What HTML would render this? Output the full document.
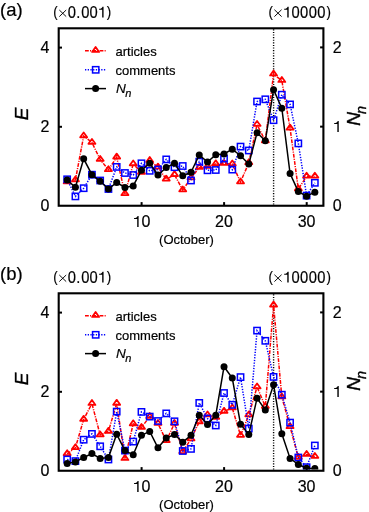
<!DOCTYPE html>
<html><head><meta charset="utf-8"><style>
html,body{margin:0;padding:0;background:#fff;}
body{width:369px;height:512px;overflow:hidden;}
svg{display:block;will-change:transform;}
text{font-family:"Liberation Sans",sans-serif;fill:#000;stroke:#000;stroke-width:0.2px;}
.t18{font-size:18px;}
.t16{font-size:16px;}
.t15{font-size:15px;}
.t153{font-size:15.3px;}
.t185{font-size:18.5px;}
.t13{font-size:13px;}
.t135i{font-size:13.6px;font-style:italic;}
.t19i{font-size:19px;font-style:italic;stroke:#000;stroke-width:0.35px;}
.sub{font-size:14.5px;}
.sub13{font-size:11px;}
</style></head><body>
<svg width="369" height="512" viewBox="0 0 369 512">
<defs><clipPath id="clipa"><rect x="59.80" y="29.3" width="262.40" height="175.30"/></clipPath>
<clipPath id="clipb"><rect x="59.80" y="29.3" width="262.40" height="175.30"/></clipPath></defs>
<g>
<text x="0" y="15.7" class="t185">(a)</text>
<text transform="translate(53.17,17.10) scale(0.87,1)" x="0" y="0" class="t153">(</text>
<text transform="translate(106.82,17.10) scale(0.87,1)" x="0" y="0" class="t153">)</text>
<text transform="scale(0.92,1)" x="73.62 82.89 88.29 97.32" y="18.0" class="t16">0.00</text>
<path d="M103.57,17.60L103.57,6.73L102.50,6.73C102.21,8.04 101.08,8.72 99.09,8.78L99.09,9.78L102.18,9.78L102.18,17.60Z" fill="#000"/>
<path d="M59.3,10.0L66.2,16.6M66.2,10.0L59.3,16.6" stroke="#000" stroke-width="0.95" fill="none"/>
<text transform="translate(268.57,17.10) scale(0.87,1)" x="0" y="0" class="t153">(</text>
<text transform="translate(326.62,17.10) scale(0.87,1)" x="0" y="0" class="t153">)</text>
<text transform="scale(0.92,1)" x="316.99 326.23 335.47 344.82" y="18.0" class="t16">0000</text>
<path d="M288.67,17.60L288.67,6.73L287.60,6.73C287.31,8.04 286.18,8.72 284.19,8.78L284.19,9.78L287.28,9.78L287.28,17.60Z" fill="#000"/>
<path d="M274.4,9.7L281.6,16.6M281.6,9.7L274.4,16.6" stroke="#000" stroke-width="0.95" fill="none"/>
<text x="49.3" y="52.7" class="t16" text-anchor="end">4</text>
<text x="49.3" y="132.0" class="t16" text-anchor="end">2</text>
<text x="49.3" y="211.4" class="t16" text-anchor="end">0</text>
<text x="332.7" y="52.8" class="t16">2</text>
<text x="332.7" y="211.4" class="t16">0</text>
<path d="M338.75,132.00L338.75,120.99L337.66,120.99C337.37,122.32 336.22,123.01 334.20,123.07L334.20,124.08L337.34,124.08L337.34,132.00Z" fill="#000"/>
<path d="M138.61,226.90L138.61,215.89L137.52,215.89C137.23,217.22 136.08,217.91 134.07,217.97L134.07,218.98L137.20,218.98L137.20,226.90Z" fill="#000"/>
<text x="141.46" y="226.9" class="t16">0</text>
<text x="224.0" y="226.9" class="t16" text-anchor="middle">20</text>
<text x="306.6" y="226.9" class="t16" text-anchor="middle">30</text>
<text x="186.5" y="243.5" class="t13" text-anchor="middle">(October)</text>
<text transform="translate(28.3,120.2) rotate(-90)" class="t19i">E</text>
<text transform="translate(359.6,125.8) rotate(-90)" class="t19i">N<tspan class="sub" dx="-1.8" dy="6">n</tspan></text>
<g stroke="#000" stroke-width="2.1" fill="none">
<rect x="58.7" y="28.3" width="264.7" height="177.45"/>
</g>
<g stroke="#000" stroke-width="2">
<line x1="58.7" x2="62" y1="47.6" y2="47.6"/>
<line x1="58.7" x2="62" y1="126.8" y2="126.8"/>
<line x1="323.4" x2="320.1" y1="47.4" y2="47.4"/>
<line x1="323.4" x2="320.1" y1="126.65" y2="126.65"/>
<line x1="141.6" x2="141.6" y1="205.5" y2="202.1"/>
<line x1="224.1" x2="224.1" y1="205.5" y2="202.1"/>
<line x1="306.7" x2="306.7" y1="205.5" y2="202.1"/>
</g>
<line x1="273.6" x2="273.6" y1="29.3" y2="204.6" stroke="#000" stroke-width="1.4" stroke-dasharray="1.1 1.5"/>
<line x1="85" x2="106" y1="50.8" y2="50.8" stroke="#ff0000" stroke-width="1.5" stroke-dasharray="3.8 1.2 1.1 1.2"/>
<g stroke="#ff0000" stroke-width="1.8" stroke-linejoin="round" fill="none"><path d="M95.60,47.03L99.10,51.93L92.10,51.93Z"/></g>
<line x1="85" x2="106" y1="69.8" y2="69.8" stroke="#0000ff" stroke-width="1.5" stroke-dasharray="1.3 1.4"/>
<g stroke="#0000ff" stroke-width="1.5" fill="none"><rect x="92.55" y="66.65" width="6.3" height="6.3"/></g>
<line x1="85" x2="106" y1="88.6" y2="88.6" stroke="#000000" stroke-width="1.5"/>
<g fill="#000000"><circle cx="95.60" cy="88.60" r="3.5"/></g>
<text x="115.5" y="56.4" class="t13">articles</text>
<text x="115.5" y="75.2" class="t13">comments</text>
<text x="116" y="92.6" class="t135i">N<tspan class="sub13" dx="-0.6" dy="4.3">n</tspan></text>
<g clip-path="url(#clipa)">
<polyline points="67.16,182.00 75.41,180.00 83.67,136.00 91.93,142.50 100.18,159.50 108.44,169.80 116.69,157.20 124.95,193.80 133.21,164.00 141.46,172.50 149.72,160.60 157.98,167.20 166.23,179.20 174.49,174.70 182.74,190.00 191.00,178.00 199.26,167.60 207.51,166.50 215.77,163.90 224.03,163.50 232.28,164.00 240.54,182.00 248.79,162.80 257.05,124.50 265.31,141.00 273.56,74.10 281.82,80.60 290.08,128.20 298.33,189.00 306.59,176.30 314.84,176.30" fill="none" stroke="#ff0000" stroke-width="1.5" stroke-dasharray="3.8 1.2 1.1 1.2"/>
<g stroke="#ff0000" stroke-width="1.8" stroke-linejoin="round" fill="none"><path d="M67.16,178.43L70.66,183.33L63.66,183.33Z"/><path d="M75.41,176.43L78.91,181.33L71.91,181.33Z"/><path d="M83.67,132.43L87.17,137.33L80.17,137.33Z"/><path d="M91.93,138.93L95.43,143.83L88.43,143.83Z"/><path d="M100.18,155.93L103.68,160.83L96.68,160.83Z"/><path d="M108.44,166.23L111.94,171.13L104.94,171.13Z"/><path d="M116.69,153.63L120.19,158.53L113.19,158.53Z"/><path d="M124.95,190.23L128.45,195.13L121.45,195.13Z"/><path d="M133.21,160.43L136.71,165.33L129.71,165.33Z"/><path d="M141.46,168.93L144.96,173.83L137.96,173.83Z"/><path d="M149.72,157.03L153.22,161.93L146.22,161.93Z"/><path d="M157.98,163.63L161.48,168.53L154.48,168.53Z"/><path d="M166.23,175.63L169.73,180.53L162.73,180.53Z"/><path d="M174.49,171.13L177.99,176.03L170.99,176.03Z"/><path d="M182.74,186.43L186.24,191.33L179.24,191.33Z"/><path d="M191.00,174.43L194.50,179.33L187.50,179.33Z"/><path d="M199.26,164.03L202.76,168.93L195.76,168.93Z"/><path d="M207.51,162.93L211.01,167.83L204.01,167.83Z"/><path d="M215.77,160.33L219.27,165.23L212.27,165.23Z"/><path d="M224.03,159.93L227.53,164.83L220.53,164.83Z"/><path d="M232.28,160.43L235.78,165.33L228.78,165.33Z"/><path d="M240.54,178.43L244.04,183.33L237.04,183.33Z"/><path d="M248.79,159.23L252.29,164.13L245.29,164.13Z"/><path d="M257.05,120.93L260.55,125.83L253.55,125.83Z"/><path d="M265.31,137.43L268.81,142.33L261.81,142.33Z"/><path d="M273.56,70.53L277.06,75.43L270.06,75.43Z"/><path d="M281.82,77.03L285.32,81.93L278.32,81.93Z"/><path d="M290.08,124.63L293.58,129.53L286.58,129.53Z"/><path d="M298.33,185.43L301.83,190.33L294.83,190.33Z"/><path d="M306.59,172.73L310.09,177.63L303.09,177.63Z"/><path d="M314.84,172.73L318.34,177.63L311.34,177.63Z"/></g>
<polyline points="67.16,179.30 75.41,196.40 83.67,188.20 91.93,174.70 100.18,180.50 108.44,189.00 116.69,166.90 124.95,173.00 133.21,175.00 141.46,163.30 149.72,170.80 157.98,169.50 166.23,159.40 174.49,167.20 182.74,166.00 191.00,180.50 199.26,161.70 207.51,170.30 215.77,170.00 224.03,158.60 232.28,169.60 240.54,146.60 248.79,150.50 257.05,101.50 265.31,99.30 273.56,120.20 281.82,94.70 290.08,104.40 298.33,143.40 306.59,195.60 314.84,182.80" fill="none" stroke="#0000ff" stroke-width="1.5" stroke-dasharray="1.3 1.4"/>
<g stroke="#0000ff" stroke-width="1.5" fill="none"><rect x="64.01" y="176.15" width="6.3" height="6.3"/><rect x="72.26" y="193.25" width="6.3" height="6.3"/><rect x="80.52" y="185.05" width="6.3" height="6.3"/><rect x="88.78" y="171.55" width="6.3" height="6.3"/><rect x="97.03" y="177.35" width="6.3" height="6.3"/><rect x="105.29" y="185.85" width="6.3" height="6.3"/><rect x="113.54" y="163.75" width="6.3" height="6.3"/><rect x="121.80" y="169.85" width="6.3" height="6.3"/><rect x="130.06" y="171.85" width="6.3" height="6.3"/><rect x="138.31" y="160.15" width="6.3" height="6.3"/><rect x="146.57" y="167.65" width="6.3" height="6.3"/><rect x="154.83" y="166.35" width="6.3" height="6.3"/><rect x="163.08" y="156.25" width="6.3" height="6.3"/><rect x="171.34" y="164.05" width="6.3" height="6.3"/><rect x="179.59" y="162.85" width="6.3" height="6.3"/><rect x="187.85" y="177.35" width="6.3" height="6.3"/><rect x="196.11" y="158.55" width="6.3" height="6.3"/><rect x="204.36" y="167.15" width="6.3" height="6.3"/><rect x="212.62" y="166.85" width="6.3" height="6.3"/><rect x="220.88" y="155.45" width="6.3" height="6.3"/><rect x="229.13" y="166.45" width="6.3" height="6.3"/><rect x="237.39" y="143.45" width="6.3" height="6.3"/><rect x="245.64" y="147.35" width="6.3" height="6.3"/><rect x="253.90" y="98.35" width="6.3" height="6.3"/><rect x="262.16" y="96.15" width="6.3" height="6.3"/><rect x="270.41" y="117.05" width="6.3" height="6.3"/><rect x="278.67" y="91.55" width="6.3" height="6.3"/><rect x="286.93" y="101.25" width="6.3" height="6.3"/><rect x="295.18" y="140.25" width="6.3" height="6.3"/><rect x="303.44" y="192.45" width="6.3" height="6.3"/><rect x="311.69" y="179.65" width="6.3" height="6.3"/></g>
<polyline points="67.16,180.00 75.41,187.30 83.67,158.80 91.93,174.70 100.18,181.30 108.44,189.10 116.69,182.50 124.95,187.40 133.21,185.90 141.46,170.30 149.72,163.30 157.98,175.00 166.23,167.50 174.49,163.30 182.74,175.80 191.00,172.20 199.26,155.00 207.51,162.00 215.77,154.70 224.03,153.90 232.28,149.20 240.54,155.70 248.79,164.10 257.05,132.80 265.31,140.80 273.56,89.70 281.82,108.20 290.08,173.60 298.33,191.60 306.59,196.20 314.84,192.20" fill="none" stroke="#000000" stroke-width="1.5"/>
<g fill="#000000"><circle cx="67.16" cy="180.00" r="3.5"/><circle cx="75.41" cy="187.30" r="3.5"/><circle cx="83.67" cy="158.80" r="3.5"/><circle cx="91.93" cy="174.70" r="3.5"/><circle cx="100.18" cy="181.30" r="3.5"/><circle cx="108.44" cy="189.10" r="3.5"/><circle cx="116.69" cy="182.50" r="3.5"/><circle cx="124.95" cy="187.40" r="3.5"/><circle cx="133.21" cy="185.90" r="3.5"/><circle cx="141.46" cy="170.30" r="3.5"/><circle cx="149.72" cy="163.30" r="3.5"/><circle cx="157.98" cy="175.00" r="3.5"/><circle cx="166.23" cy="167.50" r="3.5"/><circle cx="174.49" cy="163.30" r="3.5"/><circle cx="182.74" cy="175.80" r="3.5"/><circle cx="191.00" cy="172.20" r="3.5"/><circle cx="199.26" cy="155.00" r="3.5"/><circle cx="207.51" cy="162.00" r="3.5"/><circle cx="215.77" cy="154.70" r="3.5"/><circle cx="224.03" cy="153.90" r="3.5"/><circle cx="232.28" cy="149.20" r="3.5"/><circle cx="240.54" cy="155.70" r="3.5"/><circle cx="248.79" cy="164.10" r="3.5"/><circle cx="257.05" cy="132.80" r="3.5"/><circle cx="265.31" cy="140.80" r="3.5"/><circle cx="273.56" cy="89.70" r="3.5"/><circle cx="281.82" cy="108.20" r="3.5"/><circle cx="290.08" cy="173.60" r="3.5"/><circle cx="298.33" cy="191.60" r="3.5"/><circle cx="306.59" cy="196.20" r="3.5"/><circle cx="314.84" cy="192.20" r="3.5"/></g>
</g>
</g>
<g transform="translate(0,265)">
<text x="0" y="15.0" class="t185">(b)</text>
<text transform="translate(53.17,17.10) scale(0.87,1)" x="0" y="0" class="t153">(</text>
<text transform="translate(106.82,17.10) scale(0.87,1)" x="0" y="0" class="t153">)</text>
<text transform="scale(0.92,1)" x="73.62 82.89 88.29 97.32" y="18.0" class="t16">0.00</text>
<path d="M103.57,17.60L103.57,6.73L102.50,6.73C102.21,8.04 101.08,8.72 99.09,8.78L99.09,9.78L102.18,9.78L102.18,17.60Z" fill="#000"/>
<path d="M59.3,10.0L66.2,16.6M66.2,10.0L59.3,16.6" stroke="#000" stroke-width="0.95" fill="none"/>
<text transform="translate(268.57,17.10) scale(0.87,1)" x="0" y="0" class="t153">(</text>
<text transform="translate(326.62,17.10) scale(0.87,1)" x="0" y="0" class="t153">)</text>
<text transform="scale(0.92,1)" x="316.99 326.23 335.47 344.82" y="18.0" class="t16">0000</text>
<path d="M288.67,17.60L288.67,6.73L287.60,6.73C287.31,8.04 286.18,8.72 284.19,8.78L284.19,9.78L287.28,9.78L287.28,17.60Z" fill="#000"/>
<path d="M274.4,9.7L281.6,16.6M281.6,9.7L274.4,16.6" stroke="#000" stroke-width="0.95" fill="none"/>
<text x="49.3" y="52.7" class="t16" text-anchor="end">4</text>
<text x="49.3" y="132.0" class="t16" text-anchor="end">2</text>
<text x="49.3" y="211.4" class="t16" text-anchor="end">0</text>
<text x="332.7" y="52.8" class="t16">2</text>
<text x="332.7" y="211.4" class="t16">0</text>
<path d="M338.75,132.00L338.75,120.99L337.66,120.99C337.37,122.32 336.22,123.01 334.20,123.07L334.20,124.08L337.34,124.08L337.34,132.00Z" fill="#000"/>
<path d="M138.61,226.90L138.61,215.89L137.52,215.89C137.23,217.22 136.08,217.91 134.07,217.97L134.07,218.98L137.20,218.98L137.20,226.90Z" fill="#000"/>
<text x="141.46" y="226.9" class="t16">0</text>
<text x="224.0" y="226.9" class="t16" text-anchor="middle">20</text>
<text x="306.6" y="226.9" class="t16" text-anchor="middle">30</text>
<text x="186.5" y="243.5" class="t13" text-anchor="middle">(October)</text>
<text transform="translate(28.3,120.2) rotate(-90)" class="t19i">E</text>
<text transform="translate(359.6,125.8) rotate(-90)" class="t19i">N<tspan class="sub" dx="-1.8" dy="6">n</tspan></text>
<g stroke="#000" stroke-width="2.1" fill="none">
<rect x="58.7" y="28.3" width="264.7" height="177.45"/>
</g>
<g stroke="#000" stroke-width="2">
<line x1="58.7" x2="62" y1="47.6" y2="47.6"/>
<line x1="58.7" x2="62" y1="126.8" y2="126.8"/>
<line x1="323.4" x2="320.1" y1="47.4" y2="47.4"/>
<line x1="323.4" x2="320.1" y1="126.65" y2="126.65"/>
<line x1="141.6" x2="141.6" y1="205.5" y2="202.1"/>
<line x1="224.1" x2="224.1" y1="205.5" y2="202.1"/>
<line x1="306.7" x2="306.7" y1="205.5" y2="202.1"/>
</g>
<line x1="273.6" x2="273.6" y1="29.3" y2="204.6" stroke="#000" stroke-width="1.4" stroke-dasharray="1.1 1.5"/>
<line x1="85" x2="106" y1="50.8" y2="50.8" stroke="#ff0000" stroke-width="1.5" stroke-dasharray="3.8 1.2 1.1 1.2"/>
<g stroke="#ff0000" stroke-width="1.8" stroke-linejoin="round" fill="none"><path d="M95.60,47.03L99.10,51.93L92.10,51.93Z"/></g>
<line x1="85" x2="106" y1="69.8" y2="69.8" stroke="#0000ff" stroke-width="1.5" stroke-dasharray="1.3 1.4"/>
<g stroke="#0000ff" stroke-width="1.5" fill="none"><rect x="92.55" y="66.65" width="6.3" height="6.3"/></g>
<line x1="85" x2="106" y1="88.6" y2="88.6" stroke="#000000" stroke-width="1.5"/>
<g fill="#000000"><circle cx="95.60" cy="88.60" r="3.5"/></g>
<text x="115.5" y="56.4" class="t13">articles</text>
<text x="115.5" y="75.2" class="t13">comments</text>
<text x="116" y="92.6" class="t135i">N<tspan class="sub13" dx="-0.6" dy="4.3">n</tspan></text>
<g clip-path="url(#clipb)">
<polyline points="67.16,188.80 75.41,182.80 83.67,154.40 91.93,138.60 100.18,170.00 108.44,166.40 116.69,138.40 124.95,193.60 133.21,158.90 141.46,162.50 149.72,151.60 157.98,158.50 166.23,175.80 174.49,158.50 182.74,186.70 191.00,174.00 199.26,156.90 207.51,150.00 215.77,152.50 224.03,146.40 232.28,143.00 240.54,170.50 248.79,150.00 257.05,122.00 265.31,141.50 273.56,40.20 281.82,132.00 290.08,161.80 298.33,192.50 306.59,189.50 314.84,191.50" fill="none" stroke="#ff0000" stroke-width="1.5" stroke-dasharray="3.8 1.2 1.1 1.2"/>
<g stroke="#ff0000" stroke-width="1.8" stroke-linejoin="round" fill="none"><path d="M67.16,185.23L70.66,190.13L63.66,190.13Z"/><path d="M75.41,179.23L78.91,184.13L71.91,184.13Z"/><path d="M83.67,150.83L87.17,155.73L80.17,155.73Z"/><path d="M91.93,135.03L95.43,139.93L88.43,139.93Z"/><path d="M100.18,166.43L103.68,171.33L96.68,171.33Z"/><path d="M108.44,162.83L111.94,167.73L104.94,167.73Z"/><path d="M116.69,134.83L120.19,139.73L113.19,139.73Z"/><path d="M124.95,190.03L128.45,194.93L121.45,194.93Z"/><path d="M133.21,155.33L136.71,160.23L129.71,160.23Z"/><path d="M141.46,158.93L144.96,163.83L137.96,163.83Z"/><path d="M149.72,148.03L153.22,152.93L146.22,152.93Z"/><path d="M157.98,154.93L161.48,159.83L154.48,159.83Z"/><path d="M166.23,172.23L169.73,177.13L162.73,177.13Z"/><path d="M174.49,154.93L177.99,159.83L170.99,159.83Z"/><path d="M182.74,183.13L186.24,188.03L179.24,188.03Z"/><path d="M191.00,170.43L194.50,175.33L187.50,175.33Z"/><path d="M199.26,153.33L202.76,158.23L195.76,158.23Z"/><path d="M207.51,146.43L211.01,151.33L204.01,151.33Z"/><path d="M215.77,148.93L219.27,153.83L212.27,153.83Z"/><path d="M224.03,142.83L227.53,147.73L220.53,147.73Z"/><path d="M232.28,139.43L235.78,144.33L228.78,144.33Z"/><path d="M240.54,166.93L244.04,171.83L237.04,171.83Z"/><path d="M248.79,146.43L252.29,151.33L245.29,151.33Z"/><path d="M257.05,118.43L260.55,123.33L253.55,123.33Z"/><path d="M265.31,137.93L268.81,142.83L261.81,142.83Z"/><path d="M273.56,36.63L277.06,41.53L270.06,41.53Z"/><path d="M281.82,128.43L285.32,133.33L278.32,133.33Z"/><path d="M290.08,158.23L293.58,163.13L286.58,163.13Z"/><path d="M298.33,188.93L301.83,193.83L294.83,193.83Z"/><path d="M306.59,185.93L310.09,190.83L303.09,190.83Z"/><path d="M314.84,187.93L318.34,192.83L311.34,192.83Z"/></g>
<polyline points="67.16,194.50 75.41,196.10 83.67,174.70 91.93,168.90 100.18,181.30 108.44,194.50 116.69,146.60 124.95,185.60 133.21,176.60 141.46,146.90 149.72,151.60 157.98,156.00 166.23,148.40 174.49,156.30 182.74,186.00 191.00,183.90 199.26,137.90 207.51,153.50 215.77,160.50 224.03,128.00 232.28,139.80 240.54,112.10 248.79,163.60 257.05,65.60 265.31,75.80 273.56,111.90 281.82,129.70 290.08,157.60 298.33,192.50 306.59,202.20 314.84,180.50" fill="none" stroke="#0000ff" stroke-width="1.5" stroke-dasharray="1.3 1.4"/>
<g stroke="#0000ff" stroke-width="1.5" fill="none"><rect x="64.01" y="191.35" width="6.3" height="6.3"/><rect x="72.26" y="192.95" width="6.3" height="6.3"/><rect x="80.52" y="171.55" width="6.3" height="6.3"/><rect x="88.78" y="165.75" width="6.3" height="6.3"/><rect x="97.03" y="178.15" width="6.3" height="6.3"/><rect x="105.29" y="191.35" width="6.3" height="6.3"/><rect x="113.54" y="143.45" width="6.3" height="6.3"/><rect x="121.80" y="182.45" width="6.3" height="6.3"/><rect x="130.06" y="173.45" width="6.3" height="6.3"/><rect x="138.31" y="143.75" width="6.3" height="6.3"/><rect x="146.57" y="148.45" width="6.3" height="6.3"/><rect x="154.83" y="152.85" width="6.3" height="6.3"/><rect x="163.08" y="145.25" width="6.3" height="6.3"/><rect x="171.34" y="153.15" width="6.3" height="6.3"/><rect x="179.59" y="182.85" width="6.3" height="6.3"/><rect x="187.85" y="180.75" width="6.3" height="6.3"/><rect x="196.11" y="134.75" width="6.3" height="6.3"/><rect x="204.36" y="150.35" width="6.3" height="6.3"/><rect x="212.62" y="157.35" width="6.3" height="6.3"/><rect x="220.88" y="124.85" width="6.3" height="6.3"/><rect x="229.13" y="136.65" width="6.3" height="6.3"/><rect x="237.39" y="108.95" width="6.3" height="6.3"/><rect x="245.64" y="160.45" width="6.3" height="6.3"/><rect x="253.90" y="62.45" width="6.3" height="6.3"/><rect x="262.16" y="72.65" width="6.3" height="6.3"/><rect x="270.41" y="108.75" width="6.3" height="6.3"/><rect x="278.67" y="126.55" width="6.3" height="6.3"/><rect x="286.93" y="154.45" width="6.3" height="6.3"/><rect x="295.18" y="189.35" width="6.3" height="6.3"/><rect x="303.44" y="199.05" width="6.3" height="6.3"/><rect x="311.69" y="177.35" width="6.3" height="6.3"/></g>
<polyline points="67.16,198.40 75.41,196.90 83.67,192.50 91.93,188.50 100.18,193.40 108.44,192.50 116.69,169.20 124.95,185.60 133.21,189.80 141.46,170.30 149.72,166.40 157.98,182.80 166.23,173.10 174.49,169.50 182.74,177.20 191.00,170.30 199.26,150.20 207.51,159.50 215.77,150.20 224.03,101.70 232.28,113.00 240.54,159.20 248.79,169.40 257.05,133.20 265.31,144.90 273.56,119.70 281.82,168.70 290.08,193.40 298.33,199.50 306.59,203.30 314.84,203.50" fill="none" stroke="#000000" stroke-width="1.5"/>
<g fill="#000000"><circle cx="67.16" cy="198.40" r="3.5"/><circle cx="75.41" cy="196.90" r="3.5"/><circle cx="83.67" cy="192.50" r="3.5"/><circle cx="91.93" cy="188.50" r="3.5"/><circle cx="100.18" cy="193.40" r="3.5"/><circle cx="108.44" cy="192.50" r="3.5"/><circle cx="116.69" cy="169.20" r="3.5"/><circle cx="124.95" cy="185.60" r="3.5"/><circle cx="133.21" cy="189.80" r="3.5"/><circle cx="141.46" cy="170.30" r="3.5"/><circle cx="149.72" cy="166.40" r="3.5"/><circle cx="157.98" cy="182.80" r="3.5"/><circle cx="166.23" cy="173.10" r="3.5"/><circle cx="174.49" cy="169.50" r="3.5"/><circle cx="182.74" cy="177.20" r="3.5"/><circle cx="191.00" cy="170.30" r="3.5"/><circle cx="199.26" cy="150.20" r="3.5"/><circle cx="207.51" cy="159.50" r="3.5"/><circle cx="215.77" cy="150.20" r="3.5"/><circle cx="224.03" cy="101.70" r="3.5"/><circle cx="232.28" cy="113.00" r="3.5"/><circle cx="240.54" cy="159.20" r="3.5"/><circle cx="248.79" cy="169.40" r="3.5"/><circle cx="257.05" cy="133.20" r="3.5"/><circle cx="265.31" cy="144.90" r="3.5"/><circle cx="273.56" cy="119.70" r="3.5"/><circle cx="281.82" cy="168.70" r="3.5"/><circle cx="290.08" cy="193.40" r="3.5"/><circle cx="298.33" cy="199.50" r="3.5"/><circle cx="306.59" cy="203.30" r="3.5"/><circle cx="314.84" cy="203.50" r="3.5"/></g>
</g>
</g>
</svg>
</body></html>
